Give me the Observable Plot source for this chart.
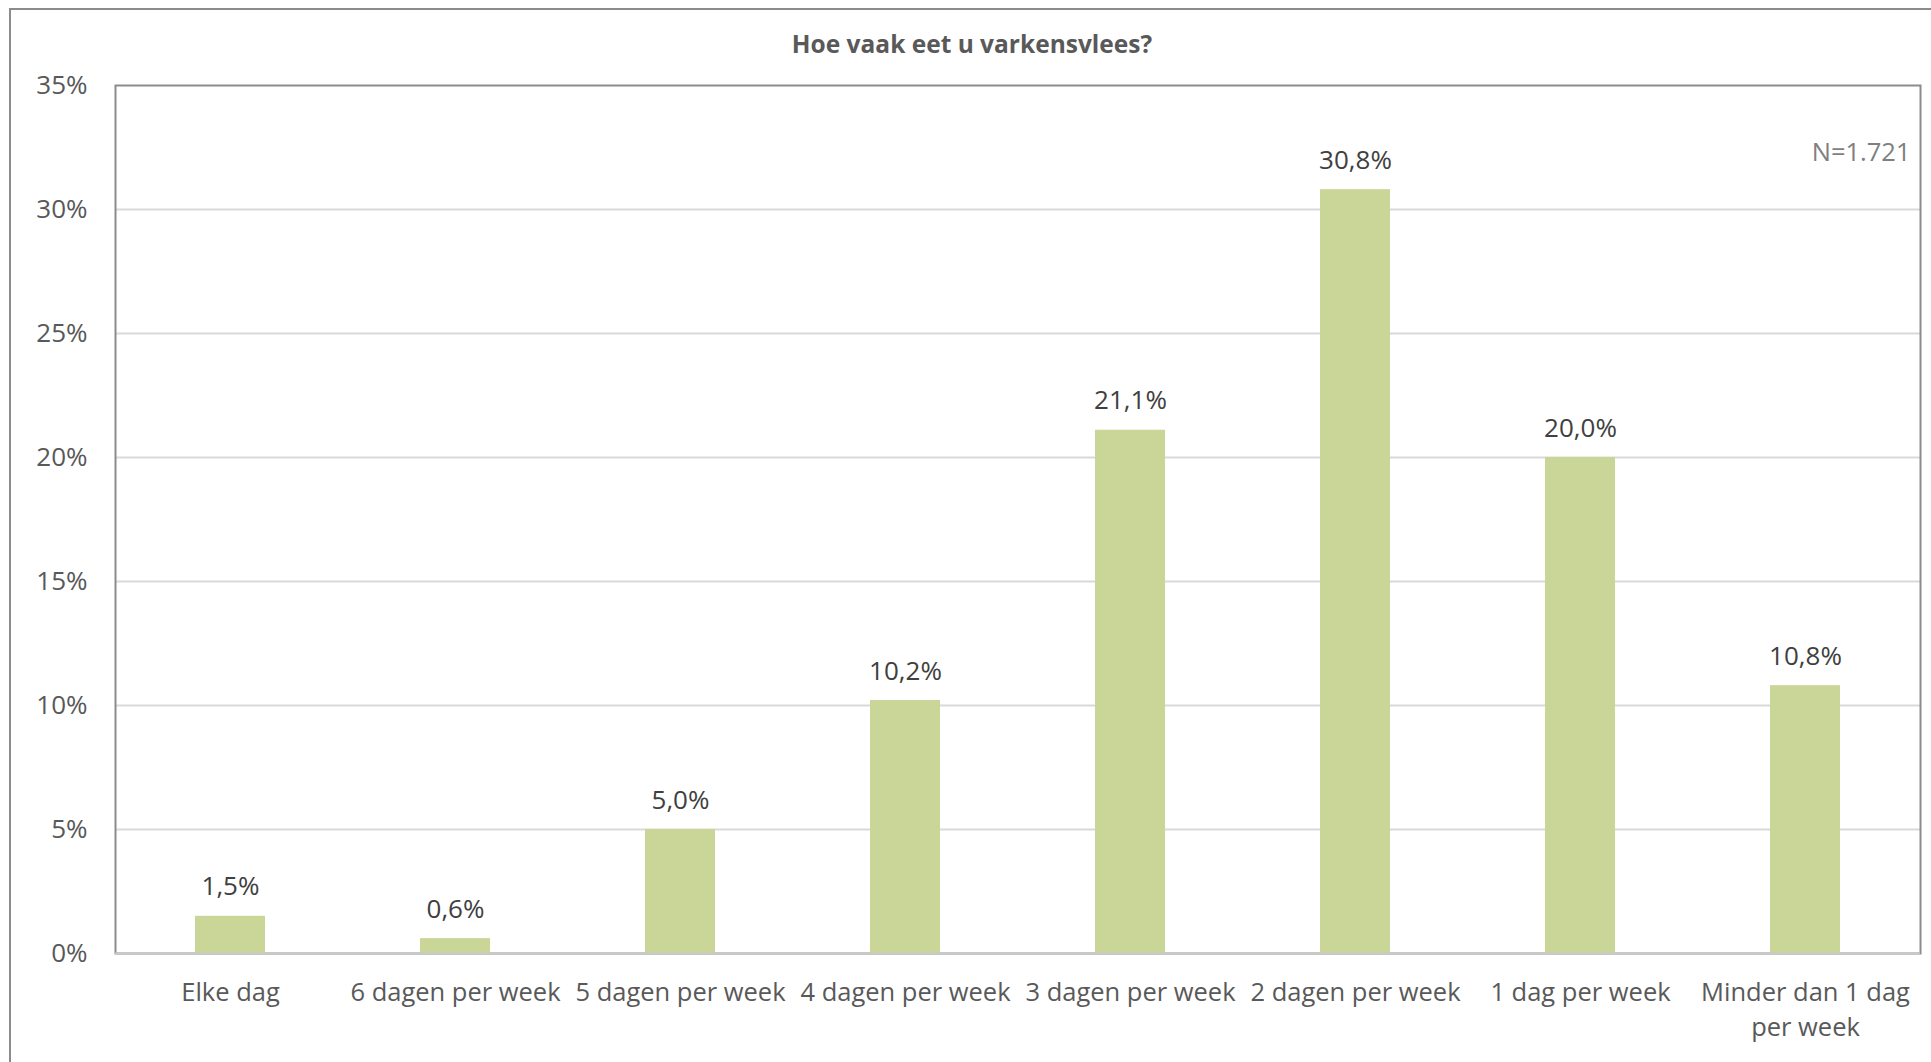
<!DOCTYPE html>
<html><head><meta charset="utf-8">
<script src="https://cdn.jsdelivr.net/npm/d3@7"></script>
<script src="https://cdn.jsdelivr.net/npm/@observablehq/plot@0.6"></script>
<style>
html,body{margin:0;padding:0;background:#fff;overflow:hidden;}
#wrap{position:relative;width:1931px;height:1062px;font-family:"Open Sans",sans-serif;}
#border{position:absolute;left:9px;top:8px;width:1960px;height:1100px;border:2px solid #8c8c8c;box-sizing:border-box;}
#title{position:absolute;left:0;top:0;width:1944px;text-align:center;font-weight:bold;font-size:24.5px;color:#595959;line-height:1;padding-top:32px;}
#chart{position:absolute;left:0;top:60px;}
</style></head><body>
<div id="wrap">
  <div id="border"></div>
  <div id="title">Hoe vaak eet u varkensvlees?</div>
  <div id="chart"></div>
</div>
<script>
const categories = ["Elke dag","6 dagen per week","5 dagen per week","4 dagen per week","3 dagen per week","2 dagen per week","1 dag per week","Minder dan 1 dag per week"];
const tickLabels = ["Elke dag","6 dagen per week","5 dagen per week","4 dagen per week","3 dagen per week","2 dagen per week","1 dag per week","Minder dan 1 dag\nper week"];
const values = [1.5, 0.6, 5.0, 10.2, 21.1, 30.8, 20.0, 10.8];
const yTicks = [0, 5, 10, 15, 20, 25, 30, 35];
const note = ["N=1.721"];

const data = categories.map((c, i) => ({category: c, value: values[i]}));
const fmt = v => v.toFixed(1).replace(".", ",") + "%";

const chart = Plot.plot({
  width: 1931,
  height: 1002,
  marginTop: 25,
  marginBottom: 109,
  marginLeft: 115,
  marginRight: 11,
  style: {fontFamily: "'Open Sans', sans-serif", color: "#595959", background: "transparent"},
  x: {domain: categories, paddingInner: 0.69, paddingOuter: 0.345, align: 0.5, label: null},
  y: {domain: [0, 35], label: null},
  marks: [
    Plot.gridY(yTicks.filter(t => t > 0 && t < 35), {stroke: "#d9d9d9", strokeOpacity: 1, strokeWidth: 2}),
    Plot.frame({stroke: "#8c8c8c", strokeWidth: 2}),
    Plot.barY(data, {x: "category", y: "value", fill: "#c9d698"}),
    Plot.ruleY([0], {stroke: "#c9c9c9", strokeWidth: 2}),
    Plot.text(data, {x: "category", y: "value", text: d => fmt(d.value), lineAnchor: "bottom", dy: -21, fill: "#404040", fontSize: 26}),
    Plot.text(note, {frameAnchor: "top-right", text: d => d, dx: -10, dy: 57, lineAnchor: "top", textAnchor: "end", fill: "#7f7f7f", fontSize: 25.5}),
    Plot.axisY({ticks: yTicks, tickFormat: d => d + "%", tickSize: 0, tickPadding: 28, fontSize: 26, label: null}),
    Plot.axisX({tickSize: 0, tickPadding: 23, fontSize: 25.5, lineHeight: 1.37, label: null,
      tickFormat: d => tickLabels[categories.indexOf(d)]})
  ]
});
document.getElementById("chart").appendChild(chart);
</script>
</body></html>
